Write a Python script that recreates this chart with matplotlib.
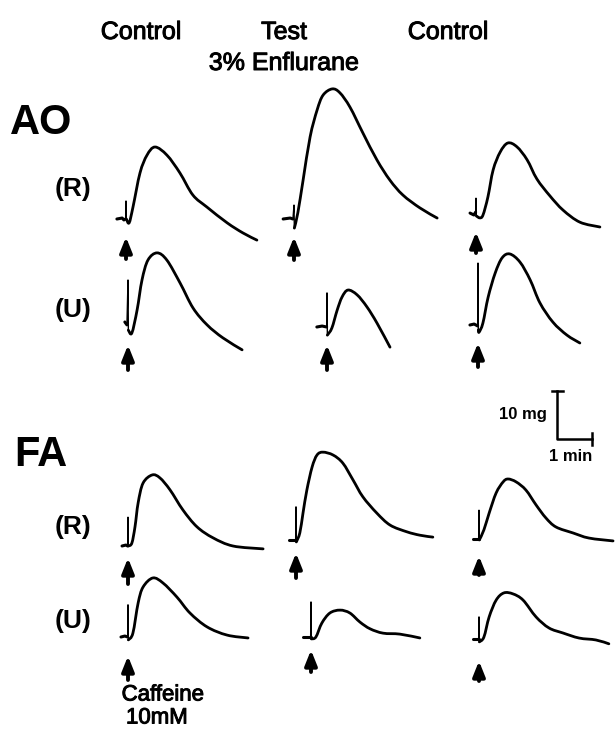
import numpy as np
import matplotlib
matplotlib.use("Agg")
import matplotlib.pyplot as plt
import matplotlib.patheffects as pe
from matplotlib.path import Path
from matplotlib.patches import PathPatch


# chart recorder scale (px on the page per unit)
PX_PER_MIN = 35.0
PX_PER_MG = 4.8

# traces: time after caffeine (min) and tension above baseline (mg)
# AO (R)
ao_r_ctl_t  = [-0.26, -0.11, -0.06, -0.01, 0, 0.01, 0.09, 0.2, 0.4, 0.6, 0.83, 1.17, 1.54, 1.91, 2.31, 2.89, 3.34, 3.74]
ao_r_ctl_mg = [0, 0.2, -0.2, 0, 3.75, 0, -0.8, 2.5, 9.6, 13.3, 15.0, 13.3, 9.6, 5.0, 2.5, -0.8, -2.9, -4.4]
ao_r_test_t  = [-0.31, -0.11, -0.03, 0, 0.01, 0.11, 0.26, 0.46, 0.66, 0.83, 1.09, 1.31, 1.6, 1.97, 2.37, 2.74, 3.11, 3.6, 4.09]
ao_r_test_mg = [0, 0.2, 0, 2.9, -1.9, 1.3, 8.1, 17.1, 22.7, 25.8, 27.1, 26.3, 23.3, 17.9, 12.3, 8.1, 5.0, 2.3, 0.2]
ao_r_ctl2_t  = [-0.17, -0.06, -0.01, 0, 0.01, 0.11, 0.2, 0.34, 0.49, 0.69, 0.91, 1.17, 1.46, 1.74, 2.11, 2.49, 2.97, 3.54]
ao_r_ctl2_mg = [0.4, 0, 0.6, 3.5, -0.2, -0.6, 0, 3.75, 9.4, 13.1, 15.0, 14.2, 11.5, 7.5, 4.0, 1.0, -1.5, -2.5]

# AO (U)
ao_u_ctl_t  = [-0.09, -0.03, 0, 0.01, 0.11, 0.26, 0.4, 0.57, 0.83, 1.11, 1.49, 1.86, 2.26, 2.71, 3.26]
ao_u_ctl_mg = [0, -0.6, 8.75, -1.7, -2.3, 2.5, 8.75, 12.9, 14.4, 12.9, 8.1, 2.9, -0.6, -3.3, -5.8]
ao_u_test_t  = [-0.29, -0.14, -0.01, 0, 0.01, 0.14, 0.29, 0.43, 0.6, 0.86, 1.14, 1.43, 1.8]
ao_u_test_mg = [0, 0.2, 0, 7.1, -1.7, -0.2, 3.5, 6.25, 7.7, 6.7, 4.2, 0.8, -4.2]
ao_u_ctl2_t  = [-0.23, -0.11, -0.01, 0, 0.01, 0.03, 0.14, 0.29, 0.49, 0.69, 0.91, 1.2, 1.49, 1.77, 2.14, 2.54, 2.91]
ao_u_ctl2_mg = [0, 0.2, -0.2, 12.9, -1.0, -1.5, 0.4, 5.8, 10.8, 14.0, 14.8, 13.1, 9.4, 4.6, 0.6, -2.1, -3.75]

# FA (R)
fa_r_ctl_t  = [-0.17, -0.06, -0.01, 0, 0.01, 0.11, 0.2, 0.29, 0.43, 0.69, 0.91, 1.2, 1.57, 1.97, 2.43, 3.0, 3.86]
fa_r_ctl_mg = [0, 0.2, 0, 6.0, 0, 0.6, 4.0, 9.0, 13.1, 14.8, 14.2, 11.7, 7.5, 4.0, 1.7, 0, -0.6]
fa_r_test_t  = [-0.2, -0.09, -0.01, 0, 0.01, 0.11, 0.2, 0.31, 0.46, 0.6, 0.77, 1.06, 1.34, 1.63, 1.91, 2.31, 2.69, 3.17, 3.54, 3.91]
fa_r_test_mg = [0, 0, 0, 6.9, -0.4, 1.5, 5.6, 10.4, 15.2, 17.7, 18.3, 17.7, 16.0, 12.5, 9.0, 5.6, 3.1, 1.7, 1.0, 0.6]
fa_r_ctl2_t  = [-0.17, -0.06, -0.01, 0, 0.01, 0.14, 0.29, 0.49, 0.69, 0.83, 1.06, 1.34, 1.63, 1.91, 2.2, 2.69, 3.14, 3.83]
fa_r_ctl2_mg = [0, 0, 0, 6.0, -0.2, 1.9, 5.4, 9.6, 11.9, 12.5, 11.9, 10.2, 7.1, 4.4, 2.5, 1.25, 0.2, -0.4]

# FA (U)
fa_u_ctl_t  = [-0.2, -0.09, -0.01, 0, 0.01, 0.14, 0.29, 0.43, 0.71, 1.0, 1.4, 1.77, 2.26, 2.83, 3.43]
fa_u_ctl_mg = [0, 0.2, 0, 6.7, -0.6, 0.8, 7.1, 10.4, 12.3, 11.25, 8.3, 5.0, 2.1, 0.4, -0.2]
fa_u_test_t  = [-0.23, -0.09, -0.01, 0, 0.01, 0.14, 0.31, 0.54, 0.83, 1.11, 1.4, 1.69, 2.06, 2.54, 3.11]
fa_u_test_mg = [0, 0, 0, 7.3, -0.4, 0, 2.9, 5.0, 5.6, 5.0, 3.1, 1.7, 0.8, 0.6, -0.2]
fa_u_ctl2_t  = [-0.17, -0.06, -0.01, 0, 0.01, 0.14, 0.29, 0.49, 0.71, 0.97, 1.26, 1.63, 2.0, 2.4, 2.86, 3.34, 3.71]
fa_u_ctl2_mg = [0, 0, 0, 4.6, -0.6, 0.4, 4.6, 8.1, 9.6, 9.4, 8.1, 4.6, 2.3, 1.25, 0.2, -0.2, -1.0]

column_titles = ["Control", "Test\n3% Enflurane", "Control"]
muscle_labels = ["AO", "FA"]
prep_labels = ["(R)", "(U)"]


# layout: (trace t, trace mg, caffeine x on page, baseline y on page, arrow top, arrow bottom)
panels = [
    (ao_r_ctl_t,  ao_r_ctl_mg,  126, 219, 237, 259),
    (ao_r_test_t, ao_r_test_mg, 294, 219, 237, 260),
    (ao_r_ctl2_t, ao_r_ctl2_mg, 476, 215, 232, 253),
    (ao_u_ctl_t,  ao_u_ctl_mg,  128, 322, 345, 370),
    (ao_u_test_t, ao_u_test_mg, 327, 327, 345, 370),
    (ao_u_ctl2_t, ao_u_ctl2_mg, 478, 325, 343, 367),
    (fa_r_ctl_t,  fa_r_ctl_mg,  128, 546, 558, 584),
    (fa_r_test_t, fa_r_test_mg, 296, 540, 553, 578),
    (fa_r_ctl2_t, fa_r_ctl2_mg, 479, 539, 556, 575),
    (fa_u_ctl_t,  fa_u_ctl_mg,  128, 637, 656, 680),
    (fa_u_test_t, fa_u_test_mg, 311, 637, 650, 672),
    (fa_u_ctl2_t, fa_u_ctl2_mg, 479, 639, 661, 681),
]


def smooth_path(x, y):
    # Catmull-Rom through the read points, drawn as cubic Bezier pieces
    p = np.column_stack([x, y])
    p = np.vstack([p[0], p, p[-1]])
    verts = [p[1]]
    codes = [Path.MOVETO]
    for i in range(1, len(p) - 2):
        c1 = p[i] + (p[i + 1] - p[i - 1]) / 6.0
        c2 = p[i + 1] - (p[i + 2] - p[i]) / 6.0
        verts += [c1, c2, p[i + 1]]
        codes += [Path.CURVE4] * 3
    return Path(verts, codes)


fig = plt.figure(figsize=(6.16, 7.29), dpi=100)
ax = fig.add_axes([0, 0, 1, 1])
ax.set_xlim(0, 616)
ax.set_ylim(729, 0)
ax.axis("off")

font = "Liberation Sans"
thick = [pe.withStroke(linewidth=0.7, foreground="black")]

for t, mg, x0, y0, a_top, a_bot in panels:
    x = x0 + np.array(t) * PX_PER_MIN
    y = y0 - np.array(mg) * PX_PER_MG
    k = t.index(0)
    # baseline before the stimulus
    ax.plot(x[:k], y[:k], color="black", lw=2.2, solid_capstyle="round")
    # stimulus artifact
    ax.plot(x[k - 1:k + 2], y[k - 1:k + 2], color="black", lw=1.0)
    # contracture
    ax.add_patch(PathPatch(smooth_path(x[k + 1:], y[k + 1:]), fill=False,
                           edgecolor="black", lw=2.0, capstyle="round", joinstyle="round"))
    ax.annotate("", xy=(x0, a_top), xytext=(x0, a_bot),
                arrowprops=dict(arrowstyle="-|>,head_width=0.36,head_length=0.9",
                                lw=2.8, color="black", shrinkA=0, shrinkB=0))

# titles
for txt, xc in zip(column_titles, [141, 284, 448]):
    lines = txt.split("\n")
    for i, line in enumerate(lines):
        ax.text(xc, 32 + 31 * i, line, ha="center", va="center",
                fontsize=18, family=font, path_effects=thick)

for lab, yc in zip(muscle_labels, [123, 455]):
    ax.text(41, yc, lab, ha="center", va="center", fontsize=30,
            family=font, fontweight="bold")

for yc_r, yc_u in [(189, 310), (527, 621)]:
    ax.text(73, yc_r, prep_labels[0], ha="center", va="center", fontsize=19,
            family=font, fontweight="bold")
    ax.text(73, yc_u, prep_labels[1], ha="center", va="center", fontsize=19,
            family=font, fontweight="bold")

# scale bar: 10 mg x 1 min
sx, sy = 557, 439
ax.plot([sx, sx, sx + PX_PER_MIN], [sy - 10 * PX_PER_MG, sy, sy], color="black", lw=1.8)
ax.plot([sx - 5, sx + 6], [sy - 10 * PX_PER_MG] * 2, color="black", lw=1.8)
ax.plot([sx + PX_PER_MIN] * 2, [sy - 6, sy + 6], color="black", lw=1.8)
ax.text(547, 414, "10 mg", ha="right", va="center", fontsize=12,
        family=font, fontweight="bold")
ax.text(571, 456, "1 min", ha="center", va="center", fontsize=12,
        family=font, fontweight="bold")

ax.text(163, 695, "Caffeine", ha="center", va="center", fontsize=16,
        family=font, path_effects=thick)
ax.text(157, 718, "10mM", ha="center", va="center", fontsize=16,
        family=font, path_effects=thick)

fig.savefig("out.png", dpi=100, facecolor="white")
